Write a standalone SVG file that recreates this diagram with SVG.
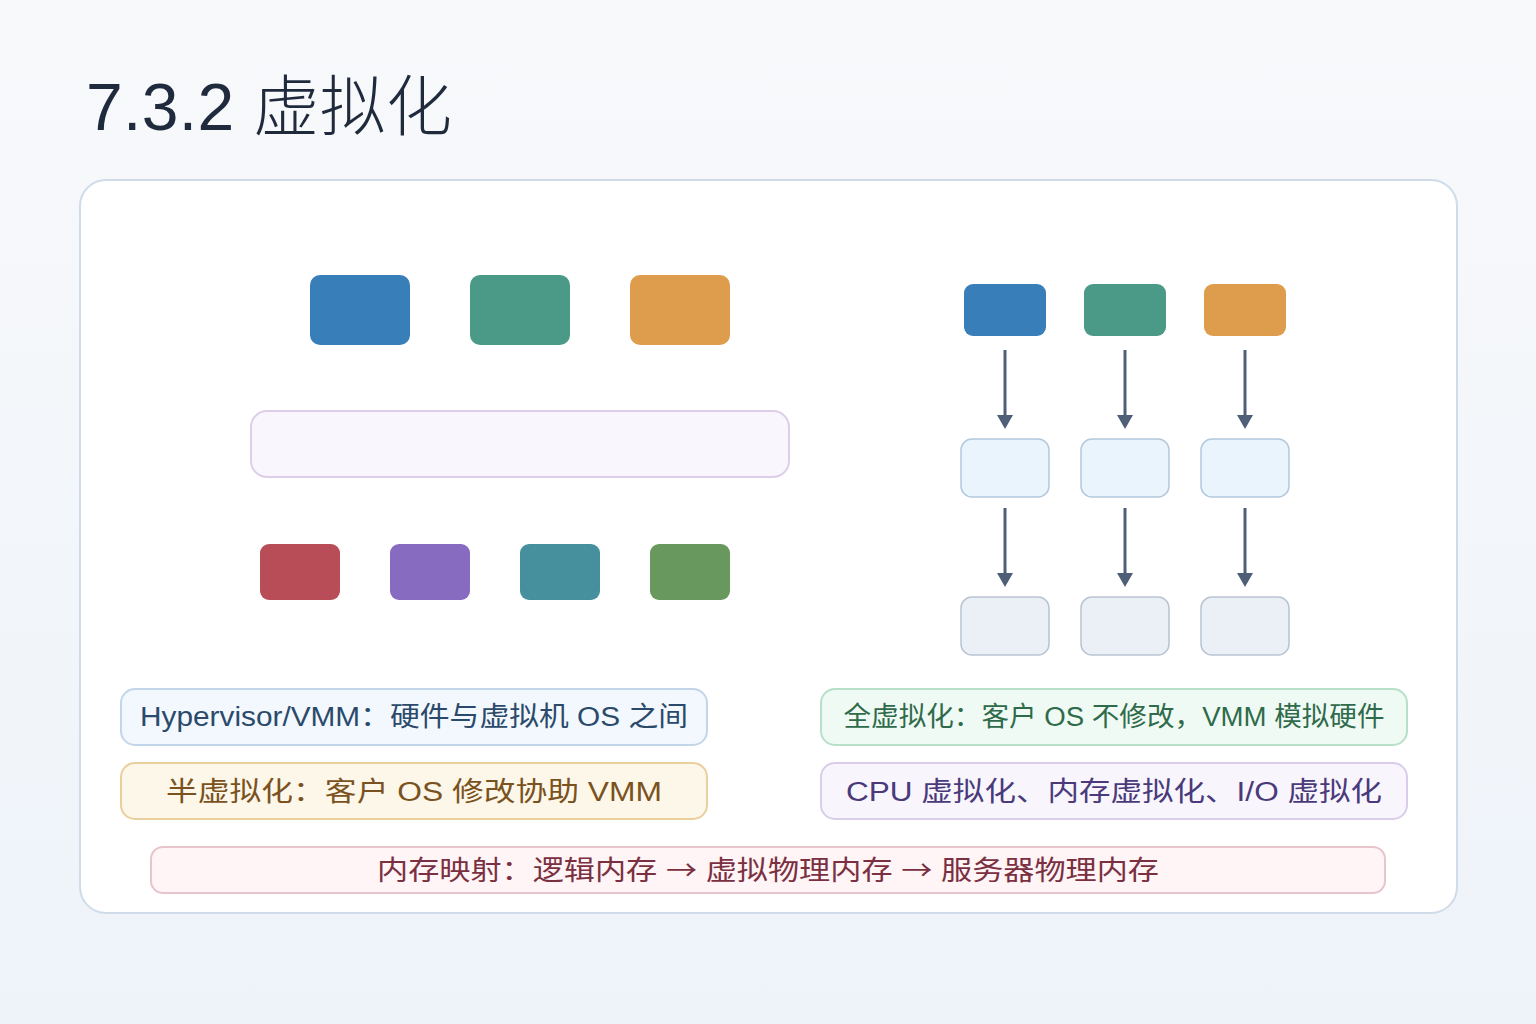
<svg xmlns="http://www.w3.org/2000/svg" width="1536" height="1024" viewBox="0 0 1536 1024">
<defs>
<linearGradient id="bg" x1="0" y1="0" x2="0" y2="1">
<stop offset="0" stop-color="#f8f9fb"/>
<stop offset="1" stop-color="#eef3f9"/>
</linearGradient>
<style>
text{font-family:"Liberation Sans","Noto Sans CJK SC",sans-serif;}
.cjk{font-family:"Noto Sans CJK SC","Liberation Sans",sans-serif;}
.lbl{font-size:27px;text-anchor:middle;}
.conn{stroke:#4f5f78;stroke-width:3;fill:none;}
.head{fill:#4f5f78;}
.mid{fill:#eaf4fd;stroke:#b3c8dc;stroke-width:1.5;}
.bot{fill:#eaf0f6;stroke:#b8c4d2;stroke-width:1.5;}
</style>
</defs>
<rect width="1536" height="1024" fill="url(#bg)"/>
<text x="86" y="130" font-size="66" fill="#1f2a3c" textLength="366" lengthAdjust="spacing">7.3.2 <tspan font-weight="300">虚拟化</tspan></text>
<rect id="panel" x="80" y="180" width="1377" height="733" rx="26" fill="#ffffff" stroke="#cfdbe8" stroke-width="2"/>

<g id="vm1"><rect x="310" y="275" width="100" height="70" rx="10" fill="#387eb8"/></g>
<g id="vm2"><rect x="470" y="275" width="100" height="70" rx="10" fill="#4a9a87"/></g>
<g id="vm3"><rect x="630" y="275" width="100" height="70" rx="10" fill="#dd9d4d"/></g>
<g id="hypervisor"><rect x="251" y="411" width="538" height="66" rx="16" fill="#f9f6fd" stroke="#dccfe9" stroke-width="2"/></g>
<g id="hw1"><rect x="260" y="544" width="80" height="56" rx="9" fill="#b84d58"/></g>
<g id="hw2"><rect x="390" y="544" width="80" height="56" rx="9" fill="#866bc0"/></g>
<g id="hw3"><rect x="520" y="544" width="80" height="56" rx="9" fill="#45909c"/></g>
<g id="hw4"><rect x="650" y="544" width="80" height="56" rx="9" fill="#68985d"/></g>

<g id="r-top1"><rect x="964" y="284" width="82" height="52" rx="9" fill="#387eb8"/></g>
<g id="r-top2"><rect x="1084" y="284" width="82" height="52" rx="9" fill="#4a9a87"/></g>
<g id="r-top3"><rect x="1204" y="284" width="82" height="52" rx="9" fill="#dd9d4d"/></g>
<g id="r-mid1"><rect class="mid" x="961" y="439" width="88" height="58" rx="11"/></g>
<g id="r-mid2"><rect class="mid" x="1081" y="439" width="88" height="58" rx="11"/></g>
<g id="r-mid3"><rect class="mid" x="1201" y="439" width="88" height="58" rx="11"/></g>
<g id="r-bot1"><rect class="bot" x="961" y="597" width="88" height="58" rx="11"/></g>
<g id="r-bot2"><rect class="bot" x="1081" y="597" width="88" height="58" rx="11"/></g>
<g id="r-bot3"><rect class="bot" x="1201" y="597" width="88" height="58" rx="11"/></g>

<g id="connectors">
<line class="conn" x1="1005" y1="350" x2="1005" y2="416"/>
<path class="head" d="M997,415 L1013,415 L1005,429 Z"/>
<line class="conn" x1="1125" y1="350" x2="1125" y2="416"/>
<path class="head" d="M1117,415 L1133,415 L1125,429 Z"/>
<line class="conn" x1="1245" y1="350" x2="1245" y2="416"/>
<path class="head" d="M1237,415 L1253,415 L1245,429 Z"/>
<line class="conn" x1="1005" y1="508" x2="1005" y2="574"/>
<path class="head" d="M997,573 L1013,573 L1005,587 Z"/>
<line class="conn" x1="1125" y1="508" x2="1125" y2="574"/>
<path class="head" d="M1117,573 L1133,573 L1125,587 Z"/>
<line class="conn" x1="1245" y1="508" x2="1245" y2="574"/>
<path class="head" d="M1237,573 L1253,573 L1245,587 Z"/>
</g>

<g id="note1">
<rect x="121" y="689" width="586" height="56" rx="14" fill="#f2f8fd" stroke="#c3d5e8" stroke-width="2"/>
<text class="lbl" x="414" y="726" fill="#2b4a6b" textLength="548" lengthAdjust="spacingAndGlyphs">Hypervisor/VMM：硬件与虚拟机 OS 之间</text>
</g>
<g id="note2">
<rect x="121" y="763" width="586" height="56" rx="14" fill="#fdf7ea" stroke="#e9cf9c" stroke-width="2"/>
<text class="lbl" x="414" y="801" fill="#7a5220" textLength="496" lengthAdjust="spacingAndGlyphs">半虚拟化：客户 OS 修改协助 VMM</text>
</g>
<g id="note3">
<rect x="821" y="689" width="586" height="56" rx="14" fill="#f0faf5" stroke="#b6e0c8" stroke-width="2"/>
<text class="lbl" x="1114" y="726" fill="#2f6b4a" textLength="541" lengthAdjust="spacingAndGlyphs">全虚拟化：客户 OS 不修改，VMM 模拟硬件</text>
</g>
<g id="note4">
<rect x="821" y="763" width="586" height="56" rx="14" fill="#f8f5fd" stroke="#d9cdea" stroke-width="2"/>
<text class="lbl" x="1114" y="801" fill="#4a3a7a" textLength="536" lengthAdjust="spacingAndGlyphs">CPU 虚拟化、内存虚拟化、I/O 虚拟化</text>
</g>
<g id="note5">
<rect x="151" y="847" width="1234" height="46" rx="12" fill="#fff4f6" stroke="#e8c4cc" stroke-width="2"/>
<text class="lbl" x="768" y="880" fill="#7a3040" textLength="782" lengthAdjust="spacingAndGlyphs">内存映射：逻辑内存 <tspan class="cjk">→</tspan> 虚拟物理内存 <tspan class="cjk">→</tspan> 服务器物理内存</text>
</g>
</svg>
